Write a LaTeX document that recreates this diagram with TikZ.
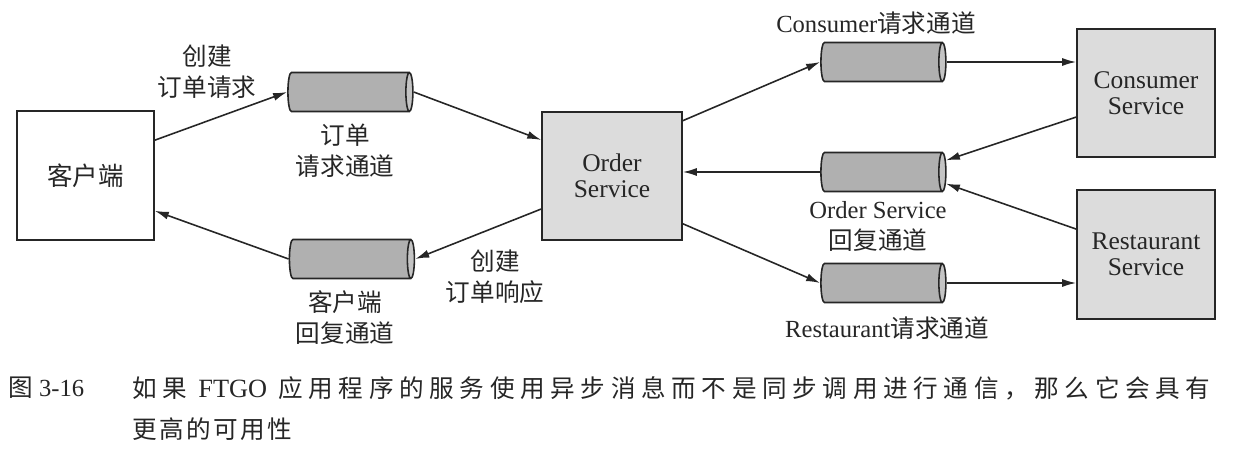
\documentclass[tikz,border=0pt]{standalone}
\usepackage{fontspec}
\usepackage{tikz}
\usetikzlibrary{shapes.geometric,arrows.meta}
\setmainfont{Liberation Serif}
\newfontfamily\cjk{Noto Sans CJK SC}
\newfontfamily\capcjk[LetterSpace=23]{Noto Sans CJK SC}
\newfontfamily\capcjkb[LetterSpace=10]{Noto Sans CJK SC}
\definecolor{boxgray}{HTML}{DCDCDC}
\definecolor{chanbody}{HTML}{B0B0B0}
\definecolor{chanend}{HTML}{C4C4C4}
\definecolor{ink}{HTML}{262626}

\begin{document}
\begin{tikzpicture}[x=0.02cm,y=-0.02cm,
        box/.style={draw=ink, line width=0.9pt, fill=boxgray, minimum width=2.76cm,
            minimum height=2.56cm, align=center, text=ink, font=\fontsize{14.5}{14.5}\selectfont},
        chan/.style={cylinder, draw=ink, line width=0.9pt, minimum width=0.78cm,
            minimum height=2.5cm, aspect=0.6, cylinder uses custom fill,
            cylinder body fill=chanbody, cylinder end fill=chanend},
        lbl/.style={align=center, text=ink, font=\fontsize{14}{17.6}\selectfont},
        msg/.style={draw=ink, line width=0.9pt, -{Latex[length=2.8mm,width=1.6mm]}}]
    \useasboundingbox (0,0) rectangle (1242,449);
        % Services and the client.
        \node[box, fill=white, minimum width=2.74cm, minimum height=2.58cm] (client) at (85.5,175.5) {\cjk 客户端};
        \node[box, minimum width=2.8cm] (order) at (612,176) {Order\\Service};
        \node[box] (cons) at (1146,93) {Consumer\\Service};
        \node[box, minimum height=2.58cm] (rest) at (1146,254.5) {Restaurant\\Service};
        % Message channels.
        \node[chan] (oreq) at (347,92) {};
        \node[chan] (crep) at (348.5,259) {};
        \node[chan] (creq) at (880,62) {};
        \node[chan] (rep) at (880,172) {};
        \node[chan] (rreq) at (880,283) {};
        % Messages.
        \draw[msg] (client.27) -- (oreq.west);
        \draw[msg] (oreq.east) -- (order.153);
        \draw[msg] (order.38) -- (creq.west);
        \draw[msg] (creq.east) -- (creq.east -| cons.west);
        \draw[msg] (cons.199) -- (rep.10);
        \draw[msg] (rest.160) -- (rep.-10);
        \draw[msg] (rep.west) -- (rep.west -| order.east);
        \draw[msg] (order.-34) -- (rreq.west);
        \draw[msg] (rreq.east) -- (rreq.east -| rest.west);
        \draw[msg] (order.205) -- (crep.east);
        \draw[msg] (crep.west) -- (client.-27);
        % Below nodes are the labels.
            \node[lbl] (lcreate) at (207,72) {\cjk 创建\\\cjk 订单请求};
            \node[lbl] (loreq) at (345,151) {\cjk 订单\\\cjk 请求通道};
            \node[lbl] (lcrep) at (345,318) {\cjk 客户端\\\cjk 回复通道};
            \node[lbl] (lresp) at (495,277) {\cjk 创建\\\cjk 订单响应};
            \node[lbl] (lcreq) at (876,23) {Consumer{\cjk 请求通道}};
            \node[lbl] (lrep) at (878,226) {Order Service\\\cjk 回复通道};
            \node[lbl] (lrreq) at (887,328) {Restaurant{\cjk 请求通道}};
        % Caption.
            \node[anchor=west, inner sep=0pt, text=ink, font=\fontsize{14}{16}\selectfont] (fignum) at (8,388) {{\capcjkb 图} 3-16};
            \node[anchor=west, inner sep=0pt, text=ink, font=\fontsize{14}{16}\selectfont] (capa) at (132,388)
                {\capcjk 如果 {\fontsize{15}{16}\selectfont\rmfamily FTGO} 应用程序的服务使用异步消息而不是同步调用进行通信，那么它会具有};
            \node[anchor=west, inner sep=0pt, text=ink, font=\fontsize{14}{16}\selectfont] (capb) at (132,429) {\capcjkb 更高的可用性};
\end{tikzpicture}
\end{document}
